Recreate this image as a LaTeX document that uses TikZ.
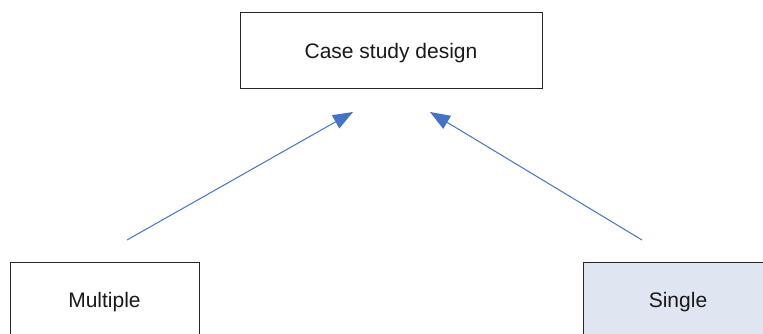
\documentclass[tikz,border=0pt]{standalone}
\usepackage{fontspec}
\setmainfont{Liberation Sans}
\usetikzlibrary{arrows.meta}
\definecolor{linkblue}{HTML}{4472C4}
\definecolor{palefill}{HTML}{DFE6F1}
\tikzset{
  box/.style={draw=black!85, line width=1pt, minimum width=#1, minimum height=75pt,
              inner sep=0pt, text height=15pt, text depth=0pt,
              font=\fontsize{21}{25}\selectfont, text=black!90},
  box/.default=270pt,
  link/.style={draw=linkblue, line width=1pt,
               -{Triangle[length=20pt,width=15pt]}}
}
\begin{document}
\begin{tikzpicture}[x=1pt,y=-1pt]
  \useasboundingbox (0,0) rectangle (763,334);
  \clip (0,0) rectangle (763,334);
  % design boxes
  \node[box=302pt, minimum height=76pt] (design) at (391,51) {Case study design};
  \node[box=189pt] (multiple) at (104.5,300) {Multiple};
  \node[box=189pt, fill=palefill] (single) at (678,300) {Single};
  % arrow ends
  \coordinate (mfrom) at (127,240);
  \coordinate (mto)   at (353,112);
  \coordinate (sfrom) at (642,240);
  \coordinate (sto)   at (430,112);
  \draw[link] (mfrom) -- (mto);
  \draw[link] (sfrom) -- (sto);
\end{tikzpicture}
\end{document}
